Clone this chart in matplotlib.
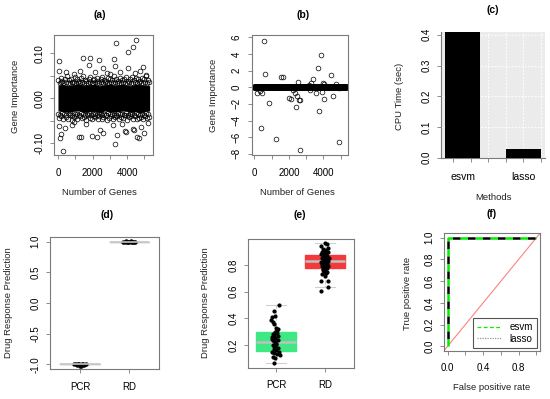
import numpy as np
import matplotlib.pyplot as plt
from matplotlib.lines import Line2D

plt.rcParams['font.family'] = ['Liberation Sans', 'DejaVu Sans']

W, H = 550, 399
GRAY = '#7a7a7a'

# ---- (a) esvm gene importance ----
n_genes = 5300
# solid core of the cloud (envelope)
band_x = [1, 300, 600, 900, 1200, 1500, 1800, 2100, 2400, 2700, 3000,
          3300, 3600, 3900, 4200, 4500, 4800, 5100, 5300]
band_hi = [0.029, 0.031, 0.028, 0.030, 0.032, 0.029, 0.030, 0.031, 0.028, 0.030,
           0.032, 0.029, 0.031, 0.030, 0.028, 0.031, 0.030, 0.029, 0.028]
band_lo = [-0.028, -0.030, -0.031, -0.029, -0.028, -0.031, -0.030, -0.029, -0.032, -0.028,
           -0.030, -0.031, -0.029, -0.028, -0.031, -0.030, -0.032, -0.029, -0.028]
# ragged edge of the cloud (inner and outer rows)
edge_hi_x = [30, 150, 260, 380, 500, 610, 730, 850, 960, 1080, 1190, 1310, 1420, 1540,
             1650, 1770, 1880, 2000, 2110, 2230, 2340, 2460, 2570, 2690, 2800, 2920,
             3030, 3150, 3260, 3380, 3490, 3610, 3720, 3840, 3950, 4070, 4180, 4300,
             4410, 4530, 4640, 4760, 4870, 4990, 5100, 5220]
edge_hi_y = [0.041, 0.046, 0.038, 0.044, 0.049, 0.040, 0.043, 0.037, 0.047, 0.042,
             0.039, 0.045, 0.050, 0.041, 0.038, 0.044, 0.048, 0.040, 0.043, 0.046,
             0.039, 0.042, 0.047, 0.041, 0.038, 0.045, 0.043, 0.040, 0.049, 0.042,
             0.038, 0.046, 0.041, 0.044, 0.048, 0.039, 0.043, 0.047, 0.040, 0.045,
             0.042, 0.038, 0.046, 0.043, 0.049, 0.041]
edge_hi2_x = [90, 205, 320, 440, 555, 670, 790, 905, 1020, 1135, 1250, 1365, 1480, 1595,
              1710, 1825, 1940, 2055, 2170, 2285, 2400, 2515, 2630, 2745, 2860, 2975,
              3090, 3205, 3320, 3435, 3550, 3665, 3780, 3895, 4010, 4125, 4240, 4355,
              4470, 4585, 4700, 4815, 4930, 5045, 5160, 5260]
edge_hi2_y = [0.034, 0.036, 0.033, 0.037, 0.035, 0.034, 0.036, 0.033, 0.035, 0.037,
              0.034, 0.036, 0.033, 0.035, 0.034, 0.037, 0.035, 0.033, 0.036, 0.034,
              0.035, 0.037, 0.033, 0.036, 0.034, 0.035, 0.037, 0.034, 0.036, 0.033,
              0.035, 0.034, 0.037, 0.035, 0.033, 0.036, 0.034, 0.035, 0.037, 0.033,
              0.036, 0.034, 0.035, 0.037, 0.034, 0.036]
edge_lo_x = [80, 200, 320, 440, 560, 670, 790, 900, 1020, 1130, 1250, 1370, 1480, 1600,
             1710, 1830, 1940, 2060, 2170, 2290, 2400, 2520, 2630, 2750, 2860, 2980,
             3090, 3210, 3320, 3440, 3550, 3670, 3780, 3900, 4010, 4130, 4240, 4360,
             4470, 4590, 4700, 4820, 4930, 5050, 5160, 5270]
edge_lo_y = [-0.043, -0.039, -0.047, -0.041, -0.045, -0.038, -0.048, -0.042, -0.040, -0.046,
             -0.039, -0.044, -0.041, -0.049, -0.038, -0.043, -0.046, -0.040, -0.042, -0.047,
             -0.039, -0.045, -0.041, -0.038, -0.048, -0.043, -0.040, -0.046, -0.042, -0.039,
             -0.047, -0.041, -0.044, -0.038, -0.049, -0.042, -0.040, -0.045, -0.039, -0.047,
             -0.043, -0.041, -0.046, -0.039, -0.044, -0.042]
edge_lo2_x = [20, 140, 255, 370, 490, 610, 725, 840, 960, 1075, 1190, 1310, 1425, 1540,
              1655, 1770, 1885, 2000, 2115, 2230, 2345, 2460, 2575, 2690, 2805, 2920,
              3035, 3150, 3265, 3380, 3495, 3610, 3725, 3840, 3955, 4070, 4185, 4300,
              4415, 4530, 4645, 4760, 4875, 4990, 5105, 5220]
edge_lo2_y = [-0.034, -0.036, -0.033, -0.035, -0.037, -0.034, -0.033, -0.036, -0.035, -0.034,
              -0.037, -0.033, -0.035, -0.036, -0.034, -0.033, -0.037, -0.035, -0.034, -0.036,
              -0.033, -0.035, -0.037, -0.034, -0.036, -0.033, -0.035, -0.034, -0.037, -0.036,
              -0.033, -0.035, -0.034, -0.036, -0.033, -0.037, -0.035, -0.034, -0.036, -0.033,
              -0.035, -0.037, -0.034, -0.036, -0.033, -0.035]
# outliers
out_a_x = [58, 60, 480, 1445, 1870, 2350, 1792, 1252, 2600, 3237, 3295, 3334, 4047,
           4335, 4528, 4060, 3565, 4432, 4914, 5107, 4720, 2832, 2120, 900, 3000,
           58, 96, 193, 289, 385, 829, 1195, 1349, 1985, 2274, 2601, 3180, 3276,
           3411, 3719, 3854, 3950, 4336, 4412, 4567, 4683, 4952, 4818, 1600, 2409,
           906, 5200]
out_a_y = [0.084, 0.061, 0.059, 0.089, 0.089, 0.085, 0.073, 0.061, 0.067, 0.087,
           0.072, 0.124, 0.104, 0.113, 0.130, 0.067, 0.059, 0.057, 0.070, 0.052,
           0.061, 0.056, 0.059, 0.055, 0.054,
           -0.061, -0.089, -0.080, -0.116, -0.067, -0.059, -0.087, -0.085, -0.084,
           -0.087, -0.078, -0.059, -0.102, -0.082, -0.056, -0.073, -0.074, -0.069,
           -0.070, -0.087, -0.089, -0.076, -0.063, -0.056, -0.070, -0.052, -0.055]

# ---- (b) lasso gene importance ----
b_idx = [137, 328, 426, 580, 618, 850, 387, 1254, 1540, 1677, 2025, 2120, 2545, 2256,
         2351, 2449, 2560, 2640, 2409, 2655, 3181, 3277, 3412, 3220, 3547, 3836, 3663,
         3990, 4028, 3894, 4049, 3759, 4280, 4434, 4569, 4723, 4897, 5050, 4916]
b_val = [-0.64, -0.4, -0.64, 5.58, 1.57, -1.93, -4.94, -6.22, 1.2, 1.2, -1.33, -1.4,
         0.68, -0.32, -0.72, -1.04, -1.53, -1.53, -2.33, -7.6, 0.28, 0.56, 0.96, -0.32,
         -0.64, 3.9, 2.29, 0.48, 0.36, -0.6, -1.45, -2.81, 0.08, 1.49, -1.0, 0.4, -0.12,
         0.08, -6.55]

# ---- (c) CPU time ----
methods = ['esvm', 'lasso']
cpu_time = [0.41, 0.028]

# ---- (d) esvm drug response ----
groups = ['PCR', 'RD']
d_pcr_jit = [-0.12, -0.09, -0.06, -0.03, 0.0, 0.03, 0.06, 0.09, 0.12, -0.05, 0.05, 0.02]
d_pcr_val = [-1.0, -0.99, -1.01, -1.0, -1.02, -0.99, -1.0, -1.01, -1.0, -0.995, -1.005, -1.035]
d_rd_jit = [-0.12, -0.09, -0.06, -0.03, 0.0, 0.03, 0.06, 0.09, 0.12, -0.05, 0.05]
d_rd_val = [1.0, 1.0, 1.005, 0.995, 1.0, 1.005, 0.995, 1.0, 1.0, 1.003, 0.997]

# ---- (e) lasso drug response ----
e_pcr_x = [1.07, 0.95, 0.91, 0.98, 0.90, 0.97, 0.93, 1.01, 1.05, 0.98, 1.03, 0.95, 1.05,
           0.99, 0.91, 0.96, 1.01, 0.93, 0.98, 1.05, 0.95, 1.00, 0.91, 0.97, 1.03, 1.08,
           0.94, 0.98, 0.96, 0.92, 1.04, 0.99, 0.94, 1.02, 0.97, 1.06, 0.93, 1.00]
e_pcr_y = [0.50, 0.455, 0.41, 0.417, 0.39, 0.36, 0.37, 0.325, 0.32, 0.30, 0.29, 0.275,
           0.27, 0.25, 0.245, 0.23, 0.21, 0.20, 0.19, 0.18, 0.17, 0.16, 0.15, 0.14, 0.133,
           0.125, 0.11, 0.10, 0.063, 0.26, 0.24, 0.22, 0.28, 0.31, 0.195, 0.15, 0.235, 0.205]
e_rd_x = [2.0, 2.04, 1.93, 2.06, 1.97, 2.02, 1.95, 2.07, 1.99, 2.03, 1.92, 2.05, 1.98,
          2.01, 1.94, 2.08, 1.96, 2.03, 1.99, 2.06, 1.93, 2.02, 1.97, 2.05, 1.95, 2.0,
          2.07, 1.94, 2.03, 1.98, 2.04, 1.96, 2.01, 1.97, 2.05, 1.99, 2.02, 1.95, 2.0,
          1.92, 2.06, 2.07, 1.93, 1.98, 2.04, 1.96, 2.01, 2.03, 1.97, 2.0]
e_rd_y = [0.965, 0.96, 0.94, 0.925, 0.92, 0.91, 0.90, 0.895, 0.89, 0.885, 0.88, 0.87,
          0.865, 0.86, 0.855, 0.85, 0.845, 0.84, 0.835, 0.83, 0.825, 0.82, 0.815, 0.81,
          0.805, 0.80, 0.795, 0.79, 0.785, 0.78, 0.775, 0.77, 0.765, 0.76, 0.75, 0.745,
          0.74, 0.73, 0.72, 0.68, 0.68, 0.633, 0.605, 0.86, 0.84, 0.82, 0.80, 0.78, 0.88, 0.90]
e_stats = [dict(med=0.225, q1=0.155, q3=0.295, whislo=0.063, whishi=0.50, fliers=[]),
           dict(med=0.83, q1=0.775, q3=0.875, whislo=0.633, whishi=0.963, fliers=[])]
d_stats = [dict(med=-1.0, q1=-1.0, q3=-1.0, whislo=-1.0, whishi=-1.0, fliers=[]),
           dict(med=1.0, q1=1.0, q3=1.0, whislo=1.0, whishi=1.0, fliers=[])]

# ---- (f) ROC ----
fpr = [0.0, 0.0, 1.0]
tpr_esvm = [0.0, 1.0, 1.0]
tpr_lasso = [0.0, 1.0, 1.0]


fig = plt.figure(figsize=(W / 100, H / 100), dpi=100)


def place(x0, x1, y0, y1):
    return fig.add_axes([x0 / W, 1 - y1 / H, (x1 - x0) / W, (y1 - y0) / H])


def ptext(x, y, s, **kw):
    fig.text(x / W, 1 - y / H, s, ha='center', va='center', **kw)


def rstyle(ax, xpad=6, ypad=4):
    for sp in ax.spines.values():
        sp.set_color(GRAY)
        sp.set_linewidth(0.8)
    ax.tick_params(direction='out', length=3, width=0.6, color=GRAY, labelsize=7)
    ax.tick_params(axis='x', pad=xpad)
    ax.tick_params(axis='y', pad=ypad, labelrotation=90)
    plt.setp(ax.get_yticklabels(), va='center')


circ = dict(mfc='none', mec='black', ms=3.4, mew=0.5, ls='none', marker='o')

# (a)
ax = place(54.3, 153.3, 35, 155)
ax.fill_between(band_x, band_lo, band_hi, color='black', lw=0)
ax.plot(edge_hi2_x, edge_hi2_y, **circ)
ax.plot(edge_lo2_x, edge_lo2_y, **circ)
ax.plot(edge_hi_x, edge_hi_y, **circ)
ax.plot(edge_lo_x, edge_lo_y, **circ)
ax.plot(out_a_x, out_a_y, **circ)
ax.set_xlim(-211, 5512)
ax.set_ylim(-0.126, 0.1407)
ax.set_xticks([0, 1000, 2000, 3000, 4000, 5000])
ax.set_xticklabels(['0', '', '2000', '', '4000', ''])
ax.set_yticks([-0.10, -0.05, 0.0, 0.05, 0.10])
ax.set_yticklabels(['-0.10', '', '0.00', '', '0.10'])
rstyle(ax)

# (b)
genes = np.arange(1, n_genes + 1)
imp_b = np.zeros(n_genes)
imp_b[np.array(b_idx) - 1] = b_val
ax = place(251.5, 348, 35, 155)
ax.plot(genes, imp_b, **circ)
ax.set_xlim(-160, 5420)
ax.set_ylim(-8.15, 6.3)
ax.set_xticks([0, 1000, 2000, 3000, 4000, 5000])
ax.set_xticklabels(['0', '', '2000', '', '4000', ''])
ax.set_yticks([-8, -6, -4, -2, 0, 2, 4, 6])
rstyle(ax)

# (c)
ax = place(441, 545, 31.7, 157.7)
ax.set_facecolor('#ebebeb')
bar_pos = [0.614, 2.35]
ax.bar(bar_pos, cpu_time, width=1.0, color='black', zorder=3)
ax.set_xlim(0, 2.97)
ax.set_ylim(0, 0.41)
grid_x = [0.343, 0.843, 1.343, 1.843, 2.343, 2.843]
for gx in grid_x:
    ax.axvline(gx, color='white', lw=0.8, ls=(0, (1.5, 1.5)), zorder=1)
for gy in [0.1, 0.2, 0.3, 0.4]:
    ax.axhline(gy, color='white', lw=0.8, ls=(0, (1.5, 1.5)), zorder=1)
ax.set_xticks(bar_pos)
ax.set_xticklabels(methods)
ax.set_xticks(grid_x, minor=True)
ax.set_yticks([0.0, 0.1, 0.2, 0.3, 0.4])
rstyle(ax, xpad=10)
ax.tick_params(axis='x', which='major', length=0)
ax.tick_params(axis='x', which='minor', direction='out', length=3, width=0.6, color=GRAY)
ax.spines['top'].set_visible(False)
ax.spines['right'].set_visible(False)
plt.setp(ax.get_xticklabels(), fontsize=7.5)

# (d)
ax = place(50, 159.3, 236.7, 369.3)
ax.bxp(d_stats, positions=[1, 2], widths=0.8, showfliers=False,
       boxprops=dict(color='#c8c8c8', lw=1), medianprops=dict(color='#c8c8c8', lw=1.2),
       whiskerprops=dict(color='#c8c8c8', lw=0.8), capprops=dict(color='#c8c8c8', lw=0.8))
ax.plot(1 + np.array(d_pcr_jit), d_pcr_val, 'o', color='black', ms=2.2)
ax.plot(2 + np.array(d_rd_jit), d_rd_val, 'o', color='black', ms=2.2)
ax.set_xlim(0.39, 2.61)
ax.set_ylim(-1.082, 1.082)
ax.set_xticks([1, 2])
ax.set_xticklabels(groups)
ax.set_yticks([-1.0, -0.5, 0.0, 0.5, 1.0])
ax.set_yticklabels(['-1.0', '-0.5', '0.0', '0.5', '1.0'])
rstyle(ax)

# (e)
ax = place(248.3, 354.3, 239, 367.7)
bp = ax.bxp(e_stats, positions=[1, 2], widths=0.8, showfliers=False, patch_artist=True,
            medianprops=dict(color='#c0c0c0', lw=1.8),
            whiskerprops=dict(color='#d0d0d0', lw=0.8, ls='--'),
            capprops=dict(color='#d0d0d0', lw=0.8))
for patch, col in zip(bp['boxes'], ['#3ee882', '#f2393c']):
    patch.set_facecolor(col)
    patch.set_edgecolor(col)
for cap in bp['caps']:
    xs = cap.get_xdata()
    mid = (xs[0] + xs[1]) / 2
    cap.set_xdata([mid - 0.2, mid + 0.2])
ax.plot(e_pcr_x, e_pcr_y, 'o', color='black', ms=2.0, zorder=4)
ax.plot(e_rd_x, e_rd_y, 'o', color='black', ms=2.0, zorder=4)
ax.set_xlim(0.435, 2.6)
ax.set_ylim(0.03, 0.995)
ax.set_xticks([1, 2])
ax.set_xticklabels(groups)
ax.set_yticks([0.2, 0.4, 0.6, 0.8])
rstyle(ax)

# (f)
ax = place(444, 540, 233.3, 350.7)
ax.axline((0, 0), (1, 1), color='#ff8080', lw=0.8)
ax.plot(fpr, tpr_esvm, color='#00ee00', lw=1.8, ls=(0, (3, 3)))
ax.plot(fpr, tpr_lasso, color='black', lw=1.8, ls=(3, (3, 3)))
ax.set_xlim(-0.04, 1.04)
ax.set_ylim(-0.04, 1.04)
ax.set_xticks([0, 0.2, 0.4, 0.6, 0.8, 1.0])
ax.set_xticklabels(['0.0', '', '0.4', '', '0.8', ''])
ax.set_yticks([0, 0.2, 0.4, 0.6, 0.8, 1.0])
ax.set_yticklabels(['0.0', '0.2', '0.4', '0.6', '0.8', '1.0'])
rstyle(ax)
handles = [Line2D([], [], color='#00ee00', lw=0.9, ls=(0, (3, 2))),
           Line2D([], [], color='#999999', lw=0.9, ls=(0, (1, 1)))]
leg = ax.legend(handles, ['esvm', 'lasso'], loc='lower right', fontsize=7,
                fancybox=False, edgecolor='#555555', framealpha=1,
                handlelength=2.6, borderaxespad=0.3, labelspacing=0.2, borderpad=0.4)
leg.get_frame().set_linewidth(0.8)

# titles and axis labels
for x, y, s in [(100, 15.5, '(a)'), (303, 15.5, '(b)'), (493, 10, '(c)'),
                (107, 215, '(d)'), (300, 215, '(e)'), (492, 214, '(f)')]:
    ptext(x, y, s, fontsize=7.5, fontweight='bold')

lab = dict(fontsize=6.8, color='#222222')
ptext(16, 96.5, 'Gene Importance', rotation=90, **lab)
ptext(99, 193, 'Number of Genes', **lab)
ptext(213.3, 95, 'Gene Importance', rotation=90, **lab)
ptext(297, 193, 'Number of Genes', **lab)
ptext(400, 96, 'CPU Time (sec)', rotation=90, **lab)
ptext(493, 198, 'Methods', **lab)
ptext(8.5, 302.5, 'Drug Response Prediction', rotation=90, **lab)
ptext(206, 303, 'Drug Response Prediction', rotation=90, **lab)
ptext(407, 293, 'True positive rate', rotation=90, **lab)
ptext(492, 388, 'False positive rate', **lab)

fig.savefig('out.png', dpi=100)
